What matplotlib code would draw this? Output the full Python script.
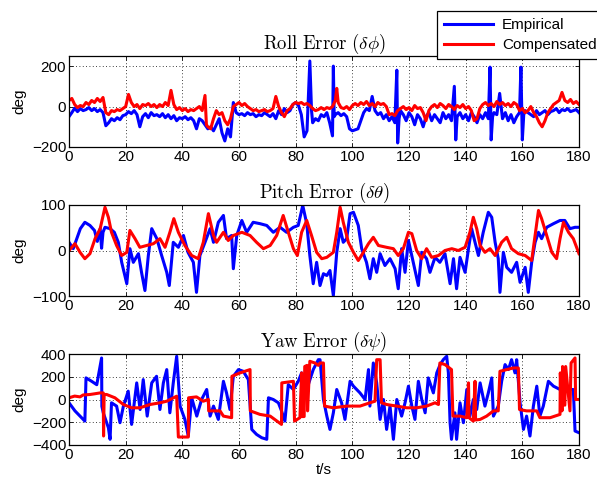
import matplotlib
matplotlib.use("Agg")
import matplotlib.pyplot as plt
from matplotlib.lines import Line2D

# ---------------- data, (t [s], error [deg]) ----------------
roll_empirical = [(0,-50),(1,-30),(2,-8),(3,-25),(4,-10),(5,-20),(6,-15),(7,-5),(8,-20),(9,-10),(10,-25),(11,-15),(12,-30),(13,-95),(14,-80),(15,-60),(16,-70),(17,-55),(18,-65),(19,-45),(20,-40),(21,-25),(22,-35),(23,-20),(24,-40),(25,-100),(26,-50),(27,-35),(28,-55),(29,-30),(30,-45),(31,-40),(32,-50),(33,-35),(34,-55),(35,-40),(36,-60),(37,-45),(38,-70),(39,-55),(40,-60),(41,-50),(42,-65),(43,-55),(44,-70),(45,-110),(46,-60),(47,-70),(48,-90),(49,-110),(50,-100),(51,-120),(52,-90),(53,-60),(54,-130),(55,-170),(56,-110),(57,-150),(58,20),(59,-30),(60,-40),(61,-35),(62,-45),(63,-30),(64,-40),(65,-35),(66,-50),(67,-40),(68,-45),(69,-30),(70,-40),(71,-50),(72,-35),(73,-60),(74,-20),(75,-40),(76,-10),(77,-30),(78,-20),(79,10),(80,20),(81,5),(82,-40),(83,-150),(84,-120),(85,225),(85.6,-20),(86,-80),(87,-60),(88,-70),(89,-40),(90,-50),(91,-30),(92,-80),(93,-145),(93.3,200),(93.6,-50),(94,-40),(95,-30),(96,-45),(97,-35),(98,-50),(99,-110),(100,-120),(101,-115),(102,-110),(103,-70),(104,-30),(105,-10),(106,-20),(107,50),(108,-20),(109,-40),(110,-30),(111,-60),(112,-40),(113,-70),(114,-50),(115,-80),(115.7,180),(116,-180),(116.5,-60),(117,-20),(118,-40),(119,-70),(120,-30),(121,-50),(122,-90),(123,-40),(124,-60),(125,-100),(126,-50),(127,-30),(128,-70),(129,-40),(130,-60),(131,-80),(132,-30),(133,-60),(134,-40),(135,-70),(136,100),(136.5,-165),(137,-50),(138,-30),(139,-60),(140,-40),(141,-70),(142,-30),(143,-50),(144,-80),(145,-40),(146,-60),(147,-30),(148,-60),(148.6,195),(149,-165),(149.5,-50),(150,-30),(151,-40),(152,65),(153,-60),(154,-30),(155,-70),(156,-40),(157,-80),(158,-50),(159,-30),(159.5,195),(160,-165),(160.5,-40),(161,-20),(162,-30),(163,-40),(164,-50),(165,-20),(166,-40),(167,-30),(168,-20),(169,-40),(170,-25),(171,-20),(172,-10),(173,-30),(174,-15),(175,-20),(176,-10),(177,-25),(178,-20),(179,-15),(180,-30)]

roll_compensated = [(0,30),(1,40),(2,10),(3,-5),(4,5),(5,0),(6,20),(7,10),(8,30),(9,20),(10,40),(11,25),(12,45),(13,-30),(14,-40),(15,-20),(16,-25),(17,-15),(18,-20),(19,-10),(20,0),(21,60),(22,20),(23,0),(24,10),(25,-10),(26,10),(27,5),(28,15),(29,0),(30,10),(31,-5),(32,10),(33,0),(34,20),(35,5),(36,80),(37,10),(38,-15),(39,-5),(40,-20),(41,-10),(42,-25),(43,-15),(44,-20),(45,-10),(46,0),(47,-20),(48,55),(48.5,-90),(49,-100),(50,-110),(51,-60),(52,-20),(53,-40),(54,-30),(55,-70),(56,-90),(57,-60),(58,0),(59,10),(60,20),(61,5),(62,15),(63,0),(64,-10),(65,-20),(66,-15),(67,-25),(68,-20),(69,-15),(70,-25),(71,-20),(72,-10),(73,50),(74,0),(75,-30),(76,-50),(77,-20),(78,-10),(79,10),(80,20),(81,15),(82,20),(83,10),(84,15),(85,5),(86,-10),(87,-20),(88,-15),(89,-5),(90,-15),(91,-5),(92,-10),(93,0),(94,30),(94.5,90),(95,20),(96,-5),(97,-10),(98,0),(99,-15),(100,5),(101,15),(102,5),(103,20),(104,10),(105,25),(106,5),(107,15),(108,0),(109,20),(110,10),(111,15),(112,0),(113,-40),(114,-35),(115,-45),(116,-20),(117,-10),(118,0),(119,-15),(120,-5),(121,-20),(122,5),(123,-10),(124,-5),(125,-30),(126,-70),(127,-20),(128,0),(129,10),(130,-5),(131,15),(132,5),(133,-10),(134,10),(135,0),(136,-15),(137,5),(138,-5),(139,10),(140,-10),(141,0),(142,-20),(143,-70),(144,-60),(145,-10),(146,10),(147,20),(148,5),(149,15),(150,0),(151,25),(152,10),(153,20),(154,5),(155,15),(156,0),(157,20),(158,10),(159,-20),(160,-10),(161,-30),(162,-20),(163,0),(164,-30),(165,-50),(166,-80),(167,-100),(168,-70),(169,-30),(170,-10),(171,10),(172,20),(173,30),(174,70),(175,30),(176,20),(177,35),(178,15),(179,25),(180,10)]

pitch_empirical = [(0,18),(1.5,4),(4,48),(5.6,62),(7.4,55),(9,44),(10,20),(11,48),(11.5,5),(12,40),(12.7,51),(14.5,48),(16,40),(17.4,18),(18.6,-26),(20.4,-73),(21.5,4),(22.7,-26),(24.5,-7),(25.6,-48),(26.8,-88),(28,-11),(29.2,48),(31,26),(32.7,-11),(34.5,-48),(35.4,-77),(36.8,18),(38.6,7),(40.4,33),(42,-4),(43.9,-26),(45,-92),(46.2,-11),(48,18),(49.8,48),(51,18),(52.7,62),(54.5,77),(55.6,26),(57.4,33),(58,-40),(59.2,33),(61,66),(62.7,40),(65,62),(67.4,59),(69.8,55),(72.1,40),(74.5,51),(76.8,40),(79.2,51),(80.9,55),(82.5,99),(83.9,59),(85,-11),(86.2,-73),(87.4,-26),(88.6,-77),(89.8,-51),(91,-55),(92.1,-44),(93.3,-99),(94.5,-4),(95.7,48),(96.8,18),(98,26),(99.2,81),(100.4,84),(102.1,55),(103.3,4),(105,-26),(106.2,-62),(107.4,-18),(108.6,-48),(109.8,-7),(111.5,-33),(113.3,-18),(115.1,-40),(116.2,-84),(117.4,4),(118.6,-48),(119.8,22),(121.5,-26),(123.3,-77),(124.5,-4),(126.2,-18),(127.4,-48),(129.2,-15),(130.9,-26),(132.7,-7),(134.5,-73),(135.7,-18),(136.8,-84),(138,-15),(139.8,-48),(141,4),(142.1,48),(143.3,18),(144.5,-11),(146.2,40),(148,84),(149.2,73),(150.4,18),(151.5,-18),(152.1,-92),(153.3,-4),(154.5,-37),(156.2,-48),(158,-26),(159.2,-70),(161,-37),(162.1,-92),(163.3,-26),(164.5,18),(165.7,40),(166.8,26),(168.6,51),(171,59),(173.3,66),(175,66),(176.8,48),(178.6,51),(180,51)]

pitch_compensated = [(0,0),(2.1,15),(3.9,-4),(5.6,-18),(7.4,-7),(9.2,26),(11,48),(12.7,95),(13.9,73),(15,40),(16.8,11),(18.6,-11),(20.4,-4),(21.5,44),(23.3,26),(25,7),(27.4,11),(29.8,15),(32.1,26),(33.9,7),(35.6,40),(37,70),(38.6,40),(40.9,11),(43.3,-11),(45.6,-18),(47.4,18),(49.2,81),(51,33),(52.1,18),(54.5,40),(56.2,22),(58,33),(61,40),(63.9,33),(66.2,18),(68.6,4),(71,11),(73.3,33),(75.6,77),(77.4,40),(79.2,4),(80.6,-11),(82.1,40),(83.9,66),(85.6,33),(87.4,-4),(89.2,-18),(91,-15),(93.3,-4),(94.5,40),(95.7,95),(96.8,62),(98.6,18),(100.4,-4),(102.1,-22),(103.9,-4),(105.7,15),(107.4,29),(109.2,11),(112.1,7),(114.5,4),(116.2,-11),(118,4),(119.8,40),(121,37),(122.7,0),(124.5,-18),(126.2,4),(128,-15),(130.4,-11),(132.7,0),(135.1,4),(137.4,0),(139.8,7),(141.5,40),(142.7,73),(143.9,48),(145.1,11),(146.8,-4),(148.6,4),(150.4,-11),(152.7,18),(154.5,29),(156.2,4),(158.6,-7),(161,-11),(163.3,-22),(164.5,33),(165.7,88),(166.8,70),(168.6,33),(170.4,-4),(172.1,-18),(173.3,26),(174.5,62),(176.3,40),(178,26),(180,-7)]

yaw_empirical = [(0,-29),(2.1,-100),(3.9,-146),(5.6,-190),(6,190),(8,160),(9.8,130),(11.5,365),(11.6,-60),(12.1,-117),(13.9,-248),(14.5,-350),(15,-29),(16.8,-58),(18,-204),(19.2,-58),(20.9,73),(22.1,-219),(23.9,146),(25.1,-88),(26.2,175),(27.6,-146),(29.2,146),(30.9,204),(32.1,-88),(33.3,146),(34.5,263),(35.6,-117),(36.8,146),(38,380),(39.2,-58),(40.9,-175),(42.1,-321),(43.3,15),(45.1,-146),(46.8,0),(48.6,88),(49.8,-146),(51,-58),(52.7,-175),(54.5,160),(55.6,58),(56.8,-88),(58,204),(59.8,263),(61.5,248),(63.3,175),(64.5,-263),(66.2,-307),(68,-336),(69.8,-350),(70.4,15),(72.1,0),(73.9,-29),(75,-100),(76.2,-190),(77.4,131),(79.2,88),(80.9,160),(82.1,234),(83.9,88),(86.2,263),(88,350),(88.6,350),(89.8,0),(91,-146),(92.1,-263),(93.3,-117),(94.5,88),(96.2,-29),(97.4,-175),(99.2,160),(100.4,117),(102.7,58),(104.5,0),(105.7,263),(106.2,-58),(107.4,321),(108.6,146),(109.8,-175),(111,0),(112.1,-263),(113.3,-58),(114.5,-350),(115.7,0),(117.4,-146),(118.6,-29),(119.8,117),(121,-58),(122.1,-175),(123.3,160),(124.5,0),(125.7,-117),(126.8,190),(128.6,58),(129.8,234),(131,307),(132.1,350),(133.3,380),(133.9,234),(134.5,-204),(135,-350),(136.2,-117),(136.8,-350),(138,-29),(139.2,-204),(140.4,88),(141.5,-146),(142.7,0),(143.9,-88),(145.1,146),(146.8,-58),(148,58),(149.2,190),(149.8,-146),(151.5,-58),(152.7,160),(153.9,307),(155.1,263),(156.2,350),(157.4,234),(158,350),(159.2,-29),(160.4,-263),(161.5,-146),(162.7,-321),(163.9,-58),(165.1,117),(166.2,-146),(167.4,-58),(169.2,160),(171,117),(173.3,88),(175.7,88),(178,88),(178.6,-277),(180,-292)]

yaw_compensated = [(0,15),(2,30),(3.9,23),(5,40),(7.4,44),(9,50),(11,58),(12.1,58),(12.2,-321),(12.4,44),(13.3,44),(16.2,15),(19.2,-44),(22.1,-73),(25,-73),(28.6,-44),(32.1,-29),(34.5,-15),(38,29),(38.6,-330),(42.1,-330),(42.2,15),(45,23),(47.4,-15),(49.2,0),(49.3,-100),(53.3,-100),(54.5,-146),(57.4,-160),(57.5,204),(60.4,234),(63.9,263),(64,-100),(67.4,-131),(71,-146),(75,-219),(75.1,146),(79.2,160),(79.6,-190),(81.5,-160),(82.1,234),(82.3,-150),(83,-150),(83.2,290),(84,300),(84.2,-100),(85,336),(86.8,321),(88,300),(88.6,321),(89.8,321),(90.2,-58),(93.3,-73),(98,-58),(102.7,-58),(106.2,-29),(108,-15),(108.6,350),(109.8,350),(110.3,-29),(112.1,-44),(115.7,-58),(119.2,-73),(122.7,-73),(126.2,-58),(129.2,-29),(130.4,-44),(130.9,321),(132.7,307),(135,263),(135.5,-146),(138,-146),(140.4,-160),(141,146),(141.2,-160),(142.7,-190),(143.3,160),(143.5,-180),(145.1,-175),(147.4,-146),(149.8,-100),(151.5,-100),(152.1,248),(154.5,263),(156.8,277),(158.6,277),(159,-88),(161.5,-100),(165.1,-100),(166.2,-160),(169.8,-160),(173.3,-131),(173.4,234),(174,-100),(174.2,290),(175,-50),(175.3,290),(176.8,-100),(177.2,321),(178.6,365),(178.8,0),(180,0)]

titles = [r"$\mathrm{Roll\ Error\ (}\delta\phi\mathrm{)}$",
          r"$\mathrm{Pitch\ Error\ (}\delta\theta\mathrm{)}$",
          r"$\mathrm{Yaw\ Error\ (}\delta\psi\mathrm{)}$"]
ylims = [(-200, 250), (-100, 100), (-400, 400)]
yticks_list = [[-200, 0, 200], [-100, 0, 100], [-400, -200, 0, 200, 400]]
xticks = list(range(0, 181, 20))
legend_labels = ["Empirical", "Compensated"]

# ---------------- figure ----------------
plt.rcParams['font.family'] = ['Liberation Sans', 'DejaVu Sans']
plt.rcParams['mathtext.fontset'] = 'cm'
fig = plt.figure(figsize=(5.97, 4.87), dpi=100)

W = 597.0
H = 487.0
left = 69 / W
width = 510 / W
tops = [56, 205, 354]
hgt = 91

series = [(roll_empirical, roll_compensated),
          (pitch_empirical, pitch_compensated),
          (yaw_empirical, yaw_compensated)]

for i in range(3):
    ax = fig.add_axes([left, 1 - (tops[i] + hgt) / H, width, hgt / H])
    emp, comp = series[i]
    et, ev = zip(*emp)
    ct, cv = zip(*comp)
    ax.plot(et, ev, color=(0, 0, 1), lw=2.2, solid_joinstyle='round')
    ax.plot(ct, cv, color=(1, 0, 0), lw=2.2, solid_joinstyle='round')
    ax.set_xlim(0, 180)
    ax.set_ylim(*ylims[i])
    ax.set_xticks(xticks)
    ax.set_yticks(yticks_list[i])
    ax.grid(True, linestyle=(0, (1, 3)), color='black', linewidth=0.6)
    ax.tick_params(direction='in', top=True, right=True, labelsize=11, length=3, pad=2, width=0.6)
    for s in ax.spines.values():
        s.set_linewidth(0.9)
    ax.set_ylabel("deg", fontsize=11, labelpad=4)
    ax.set_title(titles[i], fontsize=13.5, pad=5)
    if i == 2:
        ax.set_xlabel("t/s", fontsize=11, labelpad=1)

handles = [Line2D([0], [0], color=(0, 0, 1), lw=2.2), Line2D([0], [0], color=(1, 0, 0), lw=2.2)]
leg = fig.legend(handles, legend_labels, loc='upper left', bbox_to_anchor=(437 / W, 1 - 11 / H),
                 fontsize=11, frameon=True, fancybox=False, framealpha=1, edgecolor='black',
                 handlelength=3.2, handletextpad=0.6, borderpad=0.45, labelspacing=0.4, borderaxespad=0)
leg.get_frame().set_linewidth(0.9)
leg.set_zorder(10)

fig.savefig("out.png", dpi=100)
